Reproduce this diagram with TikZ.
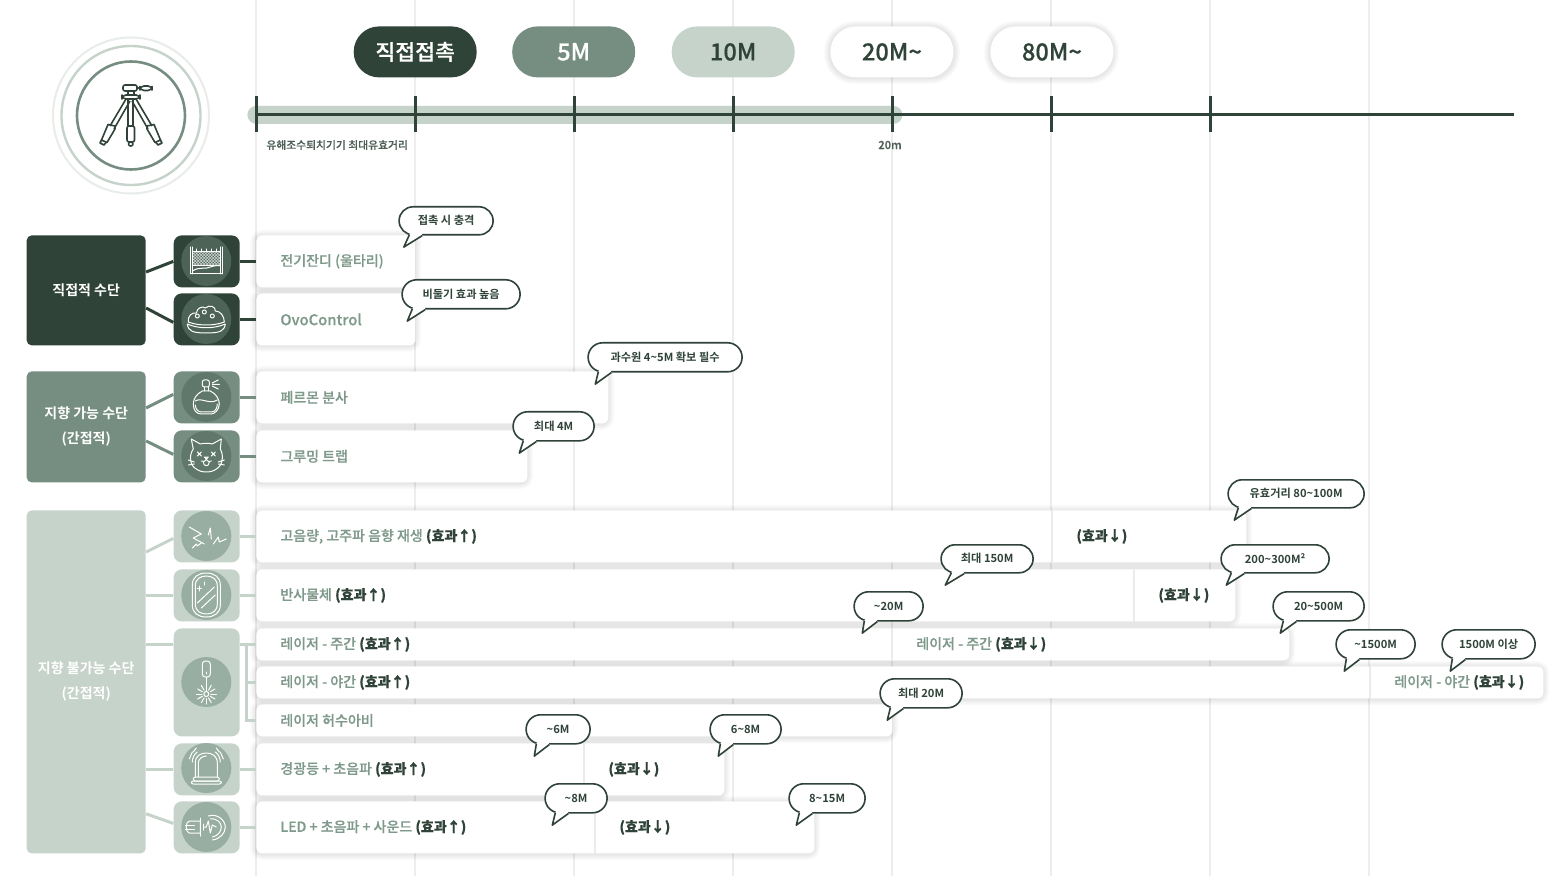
\documentclass[tikz,border=0pt]{standalone}
\usepackage{fontspec}
\usetikzlibrary{calc}
\setmainfont{Noto Sans CJK KR}[BoldFont={Noto Sans CJK KR Bold}]
\newfontfamily\medf[FakeBold=0.35]{Noto Sans CJK KR Medium}
\definecolor{cdark}{HTML}{2F4338}
\definecolor{cmid}{HTML}{768E81}
\definecolor{clight}{HTML}{C5D3CA}
\definecolor{cmidc}{HTML}{5F786B}
\definecolor{clightc}{HTML}{98AEA2}
\definecolor{cdarkc}{HTML}{4D6358}
\definecolor{cgray}{HTML}{7F998B}
\definecolor{cgrid}{HTML}{EDEDED}
\tikzset{
 x=0.5pt,y=-0.5pt,
 gridline/.style={draw=cgrid,line width=0.55pt},
 pill/.style={anchor=north west,inner sep=0pt,rounded corners=12.7pt,minimum height=25.5pt,minimum width=61.5pt,font=\fontsize{11.8}{13}\selectfont\medf},
 catbox/.style={anchor=north west,inner sep=0pt,rounded corners=2.5pt,minimum width=59.5pt,align=center,text=white,font=\fontsize{7}{12.5}\selectfont\bfseries},
 tilebox/.style={anchor=north west,inner sep=0pt,rounded corners=4pt,minimum width=33pt},
 barbox/.style={anchor=north west,inner sep=0pt,rounded corners=3pt,fill=white,text=cgray,font=\fontsize{7}{9}\selectfont\medf},
 segbox/.style={anchor=north west,inner sep=0pt,text=cgray,font=\fontsize{7}{9}\selectfont\medf},
 divline/.style={draw=black!8,line width=0.7pt},
 bubble/.style={anchor=north west,inner sep=0pt,fill=white,draw=cdark,line width=0.8pt,text=cdark,font=\fontsize{5.6}{7}\selectfont\bfseries},
 icon/.style={draw=white,line width=0.5pt,line cap=round,line join=round},
 tripod/.style={draw=cdark,line width=0.8pt,line join=round},
}
\newcommand{\bfk}[1]{{\bfseries\color{cdark}#1}}
% soft shadow
\newcommand{\softshadow}[5][3]{%
 \foreach \i in {1,...,6}{\fill[black,opacity=0.014,rounded corners=#1pt+\i*0.5pt] ({#2-\i+0.7},{#4-\i+1}) rectangle ({#3+\i+0.7},{#5+\i+1});}}
% bar: name x0 x1 y0 y1 text
\newcommand{\barnode}[6]{\node[barbox,minimum width={(#3-#2)*0.5pt},minimum height={(#5-#4)*0.5pt}] (#1) at ({#2+0.7},#4) {\makebox[{\dimexpr #3pt*1/2-#2pt*1/2\relax}][l]{\hspace{12pt}#6}};}
% seg: name x0 x1 y0 y1 text
\newcommand{\segnode}[6]{\node[segbox,minimum width={(#3-#2)*0.5pt},minimum height={(#5-#4)*0.5pt}] (#1) at ({#2+0.7},#4) {\makebox[{\dimexpr #3pt*1/2-#2pt*1/2\relax}][l]{\hspace{12pt}#6}};
 \draw[divline] (#1.north west) -- (#1.south west);}
% callout: name x0 x1 y0 y1 tipdx text
\newcommand{\callout}[7]{%
 \node[bubble,rounded corners={(#5-#4)*0.25pt},minimum width={(#3-#2)*0.5pt},minimum height={(#5-#4)*0.5pt}] (#1) at (#2,#4) {#7};
 \fill[white] ($(#1.south west)+(24,0)$) -- ($(#1.south west)+(#6,11.5)$) -- ($(#1.south west)+(11,-0.6)$) -- ($(#1.south west)+(13,-5)$) -- ($(#1.south west)+(23,-4)$) -- cycle;
 \draw[cdark,line width=0.8pt,line join=round] ($(#1.south west)+(24,0)$) -- ($(#1.south west)+(#6,11.5)$) -- ($(#1.south west)+(11,-0.6)$);}
\begin{document}
\begin{tikzpicture}
\useasboundingbox (0.7,0) rectangle (1566.7,876);
\fill[white] (0.7,0) rectangle (1566.7,876);
% grid
\foreach \gx in {256.7,415.7,574.7,733.7,892.7,1051.7,1210.7,1369.7}{\draw[gridline] (\gx,0) -- (\gx,876);}
% logo
\begin{scope}[xshift=0.35pt]
\draw[draw=clight!40,line width=1pt] (131,115.5) circle[radius=78];
\draw[draw=clight,line width=1.2pt] (131,115.5) circle[radius=69.5];
\draw[draw=cmid,line width=1.3pt] (131,115.5) circle[radius=54];
\draw[tripod,rounded corners=1pt] (123,85) rectangle (137,91);
\draw[tripod,rounded corners=2pt] (140,86) rectangle (152,90.5);
\draw[tripod] (137,88) -- (140,88);
\draw[tripod] (128,91) -- (128,95) (134,91) -- (134,95);
\draw[tripod,rounded corners=2pt] (122,95) rectangle (140,99);
\draw[tripod] (128,99) -- (128,126) (133,99) -- (133,126);
\draw[tripod,rounded corners=1pt] (127,126) rectangle (134.5,142);
\draw[tripod,rounded corners=1pt] (128.5,142) rectangle (133,146);
\begin{scope}[shift={(131,99)}]
\draw[tripod] (-5,0) -- (-21,27) (-1,2) -- (-17,30);
\draw[tripod] (-16,27) -- (-23,25.5) -- (-29.5,41) -- (-24,43.5) -- (-16,30) -- cycle;
\draw[tripod] (-29.5,41) -- (-31,44) -- (-27,46) -- (-24.5,43);
\draw[tripod] (5,0) -- (21,27) (1,2) -- (17,30);
\draw[tripod] (16,27) -- (23,25.5) -- (29.5,41) -- (24,43.5) -- (16,30) -- cycle;
\draw[tripod] (29.5,41) -- (31,44) -- (27,46) -- (24.5,43);
\end{scope}
\end{scope}
% timeline
\node[inner sep=0pt,fill=clight,rounded corners=4.5pt,minimum width=327.5pt,minimum height=9pt,anchor=north west] (range) at (247.7,105.5) {};
\coordinate (tlstart) at (256.7,114.5);
\coordinate (tlend) at (1514.7,114.5);
\draw[cdark,line width=1.5pt] (tlstart) -- (tlend);
\foreach \gx in {256.7,415.7,574.7,733.7,892.7,1051.7,1210.7}{\draw[cdark,line width=1.5pt] (\gx,96) -- (\gx,132);}
\node[anchor=west,inner sep=0pt,text=cdark!85,font=\fontsize{5.4}{7}\selectfont\medf] (cap1) at (266.7,145) {유해조수퇴치기기 최대유효거리};
\node[inner sep=0pt,text=cdark!85,font=\fontsize{5.6}{7}\selectfont\medf] (cap2) at (890.7,145) {20m};
% pills
\node[pill,fill=cdark,text=white,font=\fontsize{10.8}{13}\selectfont\medf] (p1) at (354,26) {직접접촉};
\node[pill,fill=cmid,text=white] (p2) at (512.5,26) {5M};
\node[pill,fill=clight,text=cdark] (p3) at (672,26) {10M};
\softshadow[12]{830}{954}{26}{77}
\softshadow[12]{990}{1113}{26}{77}
\node[pill,fill=white,text=cdark] (p4) at (830.7,26) {20M\textasciitilde};
\node[pill,fill=white,text=cdark] (p5) at (990.7,26) {80M\textasciitilde};
% categories
\node[catbox,fill=cdark,minimum height=55pt] (cat1) at (27,235) {직접적 수단};
\node[catbox,fill=cmid,minimum height=55.5pt] (cat2) at (27,371) {지향 가능 수단\\(간접적)};
\node[catbox,fill=clight,minimum height=171.5pt] (cat3) at (27,510) {지향 불가능 수단\\(간접적)};
% tiles
\node[tilebox,fill=cdark,minimum height=26pt] (t1) at (174,235) {};
\node[tilebox,fill=cdark,minimum height=26pt] (t2) at (174,293) {};
\node[tilebox,fill=cmid,minimum height=26pt] (t3) at (174,371) {};
\node[tilebox,fill=cmid,minimum height=26pt] (t4) at (174,430) {};
\node[tilebox,fill=clight,minimum height=26pt] (t5) at (174,510) {};
\node[tilebox,fill=clight,minimum height=26pt] (t6) at (174,569) {};
\node[tilebox,fill=clight,minimum height=54pt] (t7) at (174,628) {};
\node[tilebox,fill=clight,minimum height=26pt] (t8) at (174,743) {};
\node[tilebox,fill=clight,minimum height=26pt] (t9) at (174,801) {};
% shadows
\softshadow{256}{415}{235}{287}
\softshadow{256}{415}{293}{345}
\softshadow{256}{608}{371}{423}
\softshadow{256}{527}{430}{482}
\softshadow{256}{1246}{510}{562}
\softshadow{256}{1235}{569}{621}
\softshadow{256}{1289}{628}{660}
\softshadow{256}{1543}{666}{698}
\softshadow{256}{892}{704}{736}
\softshadow{256}{724}{743}{795}
\softshadow{256}{814}{801}{853}
% bars
\barnode{b1}{256}{415}{235}{287}{전기잔디 (울타리)}
\barnode{b2}{256}{415}{293}{345}{\fontsize{7.4}{9}\selectfont OvoControl}
\barnode{b3}{256}{608}{371}{423}{페르몬 분사}
\barnode{b4}{256}{527}{430}{482}{그루밍 트랩}
\barnode{b5}{256}{1246}{510}{562}{고음량, 고주파 음향 재생 \bfk{(효과↑)}}
\barnode{b6}{256}{1235}{569}{621}{반사물체 \bfk{(효과↑)}}
\barnode{b7}{256}{1289}{628}{660}{레이저 - 주간 \bfk{(효과↑)}}
\barnode{b8}{256}{1543}{666}{698}{레이저 - 야간 \bfk{(효과↑)}}
\barnode{b9}{256}{892}{704}{736}{레이저 허수아비}
\barnode{b10}{256}{724}{743}{795}{경광등 + 초음파 \bfk{(효과↑)}}
\barnode{b11}{256}{814}{801}{853}{LED + 초음파 + 사운드 \bfk{(효과↑)}}
\segnode{s5}{1052}{1246}{510}{562}{\bfk{(효과↓)}}
\segnode{s6}{1134}{1235}{569}{621}{\bfk{(효과↓)}}
\segnode{s7}{892}{1289}{628}{660}{레이저 - 주간 \bfk{(효과↓)}}
\segnode{s8}{1370}{1543}{666}{698}{레이저 - 야간 \bfk{(효과↓)}}
\segnode{s10}{584}{724}{743}{795}{\bfk{(효과↓)}}
\segnode{s11}{595}{814}{801}{853}{\bfk{(효과↓)}}
% connectors
\draw[cdark,line width=1.5pt] ($(cat1.north east)+(0,37)$) -- (t1.west);
\draw[cdark,line width=1.5pt] ($(cat1.north east)+(0,73)$) -- ($(t2.west)+(0,3)$);
\draw[cdark,line width=1.5pt] (t1.east) -- (t1.east -| b1.west);
\draw[cdark,line width=1.5pt] (t2.east) -- (t2.east -| b2.west);
\draw[cmid,line width=1.5pt] ($(cat2.north east)+(0,37)$) -- ($(t3.west)+(0,-3)$);
\draw[cmid,line width=1.5pt] ($(cat2.north east)+(0,70)$) -- ($(t4.west)+(0,-2)$);
\draw[cmid,line width=1.5pt] (t3.east) -- (t3.east -| b3.west);
\draw[cmid,line width=1.5pt] (t4.east) -- (t4.east -| b4.west);
\draw[clight,line width=1.5pt] ($(cat3.north east)+(0,42)$) -- ($(t5.west)+(0,2)$);
\draw[clight,line width=1.5pt] (cat3.east |- t6.west) -- (t6.west);
\draw[clight,line width=1.5pt] (cat3.east |- b7.west) -- (t7.west |- b7.west);
\draw[clight,line width=1.5pt] (cat3.east |- t8.west) -- (t8.west);
\draw[clight,line width=1.5pt] ($(cat3.south east)+(0,-40)$) -- ($(t9.west)+(0,-4)$);
\draw[clight,line width=1.5pt] (t5.east) -- (t5.east -| b5.west);
\draw[clight,line width=1.5pt] (t6.east) -- (t6.east -| b6.west);
\draw[clight,line width=1.5pt] (t7.east |- b7.west) -- (b7.west);
\coordinate (branch) at ($(t7.east |- b7.west)+(6,0)$);
\draw[clight,line width=1.5pt] (branch) |- (b9.west);
\draw[clight,line width=1.5pt] (branch |- b8.west) -- (b8.west);
\draw[clight,line width=1.5pt] (t8.east) -- (t8.east -| b10.west);
\draw[clight,line width=1.5pt] (t9.east) -- (t9.east -| b11.west);
% icon circles
\fill[cdarkc] (207,261) circle[radius=25];
\fill[cdarkc] (207,319) circle[radius=25];
\fill[cmidc] (207,397) circle[radius=25];
\fill[cmidc] (207,456) circle[radius=25];
\foreach \cy in {536,595,682,768,827}{\fill[clightc] (207,\cy) circle[radius=25];}
% fence
\begin{scope}[shift={(207,261)}]
\clip (-14,-9) rectangle (14,4.5);
\foreach \k in {-26,-23,...,26}{\draw[white,line width=0.2pt] (\k-10,-10) -- (\k+10,10) (\k+10,-10) -- (\k-10,10);}
\end{scope}
\begin{scope}[shift={(207,261)}]
\draw[icon] (-16,-14) -- (-16,13) (16,-14) -- (16,13) (-14,-14) -- (-14,13) (14,-14) -- (14,13);
\draw[icon] (-16,13) -- (16,13) (-14,-9) -- (14,-9) (-14,4.5) -- (14,4.5);
\draw[icon] (-14,10) .. controls (-6,5) and (-2,9) .. (4,6) .. controls (8,4.5) and (12,4.5) .. (14,4.5);
\foreach \k in {-10,-5,0,5,10}{\draw[icon] (\k,-12) -- (\k,-9);}
\end{scope}
% bowl
\begin{scope}[shift={(207,319)}]
\draw[icon] (-18,3) .. controls (-19,-3) and (-14,-7) .. (-10,-6) .. controls (-9,-12) and (-3,-13) .. (-1,-11) .. controls (3,-15) and (10,-12) .. (9,-8) .. controls (14,-8) and (18,-3) .. (18,3);
\draw[icon] (-19,5) .. controls (-8,10) and (8,10) .. (19,5) .. controls (18,12) and (14,14) .. (0,14) .. controls (-14,14) and (-18,12) .. (-19,5) -- cycle;
\draw[icon] (-18,3) .. controls (-8,7) and (8,7) .. (18,3);
\draw[icon] (-9,-3) circle[radius=2] (-2,-7) circle[radius=2] (6,-3) circle[radius=2];
\end{scope}
% perfume
\begin{scope}[shift={(207,397)}]
\draw[icon,rounded corners=1pt] (-4,-17) rectangle (3,-10);
\draw[icon] (-2,-10) -- (-2,-6) (2,-10) -- (2,-6);
\draw[icon] (-4,-6) -- (4,-6) .. controls (10,-3) and (13,2) .. (13,7) .. controls (13,13) and (8,17) .. (5,17) -- (-5,17) .. controls (-10,17) and (-13,13) .. (-13,7) .. controls (-13,2) and (-10,-3) .. (-4,-6);
\draw[icon] (-11,4) .. controls (-5,0) and (3,8) .. (11,3);
\draw[icon] (-11,8) .. controls (-11,12) and (-8,15) .. (-5,15) -- (5,15) .. controls (9,15) and (11,11) .. (11,7);
\draw[icon] (6,-14) -- (12,-17) (6,-12.5) -- (13,-12.5) (6,-11) -- (12,-8);
\end{scope}
% cat
\begin{scope}[shift={(207,456)}]
\draw[icon] (-13,-7) -- (-15,-17) -- (-6,-12) .. controls (-2,-13) and (2,-13) .. (6,-12) -- (15,-17) -- (14,-7) .. controls (18,0) and (16,10) .. (10,13) .. controls (5,17) and (-5,17) .. (-10,13) .. controls (-16,10) and (-18,0) .. (-13,-7);
\draw[icon] (-9,-4) -- (-5,0) (-9,0) -- (-5,-4) (5,-4) -- (9,0) (5,0) -- (9,-4);
\draw[icon] (-2,1) -- (2,1) -- (0,3) -- cycle (0,3) .. controls (-1,6) and (-4,6) .. (-5,5) (0,3) .. controls (1,6) and (4,6) .. (5,5);
\draw[icon] (-3,6) .. controls (-3,11) and (3,11) .. (3,6);
\draw[icon] (-18,4) -- (-12,6) (-18,9) -- (-12,8) (18,4) -- (12,6) (18,9) -- (12,8);
\end{scope}
% sound
\begin{scope}[shift={(207,536)}]
\draw[icon] (-17,-9) -- (-5,-2) -- (-13,2) -- (-2,8);
\draw[icon] (-14,12) -- (-10,8) -- (-9,10) -- (-5,7);
\draw[icon] (2,-1) -- (4,-8) -- (5,3);
\draw[icon] (7,8) -- (12,1) -- (13,6) -- (20,3);
\end{scope}
% mirror
\begin{scope}[shift={(207,595)}]
\draw[icon] (-14,-10) .. controls (-14,-18) and (-8,-22) .. (0,-22) .. controls (8,-22) and (14,-18) .. (14,-10) -- (14,10) .. controls (14,18) and (8,22) .. (0,22) .. controls (-8,22) and (-14,18) .. (-14,10) -- cycle;
\draw[icon] (-11,-9) .. controls (-11,-16) and (-6,-19) .. (0,-19) .. controls (6,-19) and (11,-16) .. (11,-9) -- (11,9) .. controls (11,16) and (6,19) .. (0,19) .. controls (-6,19) and (-11,16) .. (-11,9) -- cycle;
\draw[icon] (-9,8) -- (8,-8) (-5,13) -- (9,0);
\draw[icon] (-7,-9) -- (-7,-4) (-9,-6.5) -- (-5,-6.5) (-2,-13) -- (-2,-10);
\end{scope}
% laser
\begin{scope}[shift={(207,682)}]
\draw[icon,rounded corners=1.5pt] (-4,-21) rectangle (4,-5);
\draw[icon] (0,-10) -- (0,-8) (0,-5) -- (0,9);
\draw[icon] (0,12) circle[radius=2.5];
\foreach \a in {0,30,...,330}{\draw[icon] ({4.5*cos(\a)},{12+4.5*sin(\a)}) -- ({10*cos(\a)},{12+10*sin(\a)});}
\end{scope}
% alarm
\begin{scope}[shift={(207,768)}]
\draw[icon] (-11,9) -- (-11,-5) .. controls (-11,-12) and (-6,-15) .. (0,-15) .. controls (6,-15) and (11,-12) .. (11,-5) -- (11,9);
\draw[icon] (-8,9) -- (-8,-5) .. controls (-8,-9) and (-4,-12) .. (0,-12);
\draw[icon,rounded corners=1pt] (-13,9) rectangle (13,13);
\draw[icon,rounded corners=1pt] (-15,13) rectangle (15,16);
\draw[icon] (-14,-6) .. controls (-14,-10) and (-12,-14) .. (-9,-16) (14,-6) .. controls (14,-10) and (12,-14) .. (9,-16);
\draw[icon] (-13,-16) -- (-10,-20) (13,-16) -- (10,-20) (-17,-9) -- (-14,-16) (17,-9) -- (14,-16);
\end{scope}
% LED
\begin{scope}[shift={(207,827)}]
\draw[icon] (-6,-6) -- (-17,-6) .. controls (-21,-6) and (-21,6) .. (-17,6) -- (-6,6) -- cycle;
\draw[icon] (-21,-2) -- (-12,-2) (-21,2) -- (-12,2);
\draw[icon] (-6,-9) -- (-6,9) (-3,-3) -- (-3,3);
\draw[icon] (-3,0) -- (0,0) -- (2,-6) -- (4,6) -- (6,-2) -- (10,0);
\draw[icon] (2,-11) .. controls (12,-14) and (19,-6) .. (19,0) .. controls (19,6) and (14,12) .. (6,13);
\draw[icon] (4,-8) .. controls (11,-9) and (15,-4) .. (15,0) .. controls (15,4) and (12,9) .. (6,10);
\end{scope}
% callouts
\callout{c1}{399}{493}{206}{234}{5.5}{접촉 시 충격}
\callout{c2}{402}{520}{279}{308}{6}{비둘기 효과 높음}
\callout{c3}{588}{742}{342}{371}{8}{과수원 4\textasciitilde5M 확보 필수}
\callout{c4}{513}{594}{411}{440}{7}{최대 4M}
\callout{c5}{1228}{1364}{479}{507}{7}{유효거리 80\textasciitilde100M}
\callout{c6}{941}{1033}{544}{572}{5}{최대 150M}
\callout{c7}{1221}{1329}{544}{572}{6}{200\textasciitilde300M²}
\callout{c8}{854}{923}{591}{620}{9}{\textasciitilde20M}
\callout{c9}{1273}{1364}{591}{620}{8}{20\textasciitilde500M}
\callout{c10}{1336}{1415}{629}{658}{9}{\textasciitilde1500M}
\callout{c11}{1442}{1535}{629}{658}{9}{1500M 이상}
\callout{c12}{880}{962}{678}{707}{8}{최대 20M}
\callout{c13}{526}{590}{714}{743}{9}{\textasciitilde6M}
\callout{c14}{710}{781}{714}{743}{9}{6\textasciitilde8M}
\callout{c15}{545}{607}{783}{812}{8}{\textasciitilde8M}
\callout{c16}{789}{865}{783}{812}{8}{8\textasciitilde15M}
\end{tikzpicture}
\end{document}
